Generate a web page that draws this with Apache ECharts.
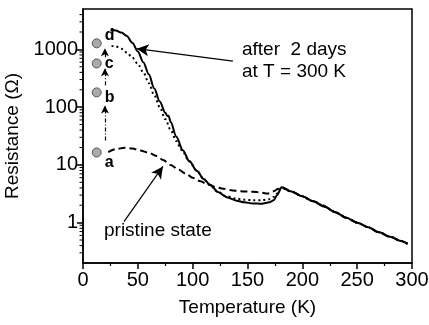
<!DOCTYPE html>
<html>
<head>
<meta charset="utf-8">
<script src="https://cdn.jsdelivr.net/npm/echarts@6/dist/echarts.min.js"></script>
<style>
  html, body { margin: 0; padding: 0; background: #fff; }
  #chart { width: 429px; height: 325px; }
</style>
</head>
<body>
<div id="chart"></div>
<script>
  // after 2 days at T = 300 K (solid, "d")
  const tempD = [25, 30, 35, 40, 45, 50, 55, 60, 65, 70, 75, 77, 78, 80, 85, 91, 97, 104, 110, 116, 123, 131, 140, 147, 155, 163, 170, 174, 177, 181, 190, 200, 210, 220, 230, 240, 250, 260, 270, 280, 290, 296]
  const resD = [2200, 2120, 1950, 1700, 1300, 920, 600, 370, 210, 125, 80, 70, 71, 55, 31, 18, 11.5, 7.8, 5.7, 4.5, 3.4, 2.75, 2.4, 2.25, 2.15, 2.12, 2.25, 2.45, 3.0, 4.1, 3.45, 2.85, 2.35, 1.9, 1.52, 1.22, 1.0, 0.83, 0.68, 0.57, 0.48, 0.43]

  // intermediate state (dotted, "c")
  const tempC = [26, 30, 35, 40, 45, 50, 55, 60, 65, 70, 75, 80, 85, 90, 97, 104, 110, 116, 123, 131, 140, 147, 155, 163, 170, 174, 177, 181, 190, 200, 210, 220, 230, 240, 250, 260, 270, 280, 290, 296]
  const resC = [1150, 1120, 1020, 880, 720, 560, 400, 260, 160, 100, 62, 40, 26, 18, 11.5, 7.8, 5.7, 4.4, 3.4, 2.85, 2.6, 2.5, 2.45, 2.45, 2.55, 2.8, 3.2, 4.0, 3.45, 2.85, 2.35, 1.9, 1.52, 1.22, 1.0, 0.83, 0.68, 0.57, 0.48, 0.43]

  // pristine state (dashed, "a")
  const tempA = [23, 30, 38, 45, 52, 60, 67, 73, 80, 87, 94, 100, 107, 113, 120, 128, 135, 143, 150, 160, 167, 170, 174, 178, 181, 190, 200, 210, 218, 225, 230, 240, 250, 260, 270, 280, 290, 296]
  const resA = [16.6, 18.8, 19.8, 19.2, 17.8, 16.2, 14.3, 12.2, 10, 8.3, 7.0, 6.0, 5.2, 4.7, 4.2, 3.85, 3.65, 3.5, 3.45, 3.37, 3.2, 3.2, 3.5, 3.85, 4.1, 3.45, 2.85, 2.35, 2.0, 1.75, 1.52, 1.22, 1.0, 0.83, 0.68, 0.57, 0.48, 0.43]

  // grey markers a..d at low temperature
  const markerLabels = ['a', 'b', 'c', 'd']
  const markerT = [12.5, 12.5, 12.5, 12.5]
  const markerR = [16.4, 180, 571, 1271]

  // dash-dot arrows between markers: [T, R from] -> [T, R to]
  const stepT = 20
  const stepFrom = [26.5, 238, 727]
  const stepTo = [107, 469, 1041]

  // annotation arrows
  const afterArrow = [[136.7, 627], [49, 1028]]
  const pristineArrow = [[37.4, 1.04], [72.9, 9.4]]

  const yMin = 0.2
  const yMax = 5000

  const font = "'Liberation Sans', Arial, sans-serif"

  const pairs = (xs, ys) => xs.map((x, i) => [x, ys[i]])

  // minor log ticks (2..9 per decade) on the left axis
  const minorLog = []
  for (let k = -1; k <= 3; k++) {
    for (let m = 2; m <= 9; m++) {
      const v = m * Math.pow(10, k)
      if (v > yMin && v < yMax) minorLog.push([0, v])
    }
  }

  const isDecade = v => Math.abs(Math.log10(v) - Math.round(Math.log10(v))) < 1e-6

  const chart = echarts.init(document.getElementById('chart'), null, {renderer: 'canvas'})

  chart.setOption({
    animation: false,
    backgroundColor: '#fff',
    textStyle: {fontFamily: font},
    grid: {
      left: 83, right: 17, top: 9, bottom: 62,
      containLabel: false, outerBoundsMode: 'none',
      show: true, borderColor: '#000', borderWidth: 1.5
    },
    xAxis: {
      type: 'value',
      min: 0, max: 300, interval: 50,
      name: 'Temperature (K)',
      nameLocation: 'middle',
      nameGap: 35,
      nameTextStyle: {fontSize: 19, color: '#000', fontFamily: font},
      axisLine: {lineStyle: {color: '#000', width: 1.5}},
      axisTick: {length: 6, lineStyle: {color: '#000', width: 1.5}},
      minorTick: {show: true, splitNumber: 2, length: 3, lineStyle: {color: '#000', width: 1.2}},
      axisLabel: {fontSize: 20, color: '#000', margin: 7, fontFamily: font},
      splitLine: {show: false}
    },
    yAxis: {
      type: 'log',
      logBase: 10,
      min: yMin, max: yMax,
      name: 'Resistance (Ω)',
      nameLocation: 'middle',
      nameGap: 52,
      nameTextStyle: {fontSize: 19, color: '#000', fontFamily: font},
      axisLine: {show: true, lineStyle: {color: '#000', width: 1.5}},
      axisTick: {length: 6, lineStyle: {color: '#000', width: 1.5}},
      axisLabel: {
        fontSize: 20, color: '#000', margin: 5, fontFamily: font,
        showMinLabel: false, showMaxLabel: false,
        formatter: v => isDecade(v) ? String(Math.round(v)) : ''
      },
      splitLine: {show: false}
    },
    graphic: [
      {type: 'text', left: 242, top: 39, silent: true,
        style: {text: 'after  2 days\nat T = 300 K', font: '19px ' + font, fill: '#000', lineHeight: 22}},
      {type: 'text', left: 104, top: 221, silent: true,
        style: {text: 'pristine state', font: '19px ' + font, fill: '#000'}}
    ],
    series: [
      {
        name: 'pristine', type: 'line', data: pairs(tempA, resA),
        showSymbol: false, smooth: 0.3, smoothMonotone: 'x', silent: true,
        lineStyle: {color: '#000', width: 2, type: [7, 4]},
        markLine: {
          silent: true, symbol: ['none', 'arrow'], symbolSize: [9, 12],
          label: {show: false},
          lineStyle: {color: '#000', width: 1.2, type: 'solid', curveness: -0.25},
          data: [[{coord: pristineArrow[0]}, {coord: pristineArrow[1]}]]
        }
      },
      {
        name: 'c', type: 'line', data: pairs(tempC, resC),
        showSymbol: false, smooth: 0.3, smoothMonotone: 'x', silent: true,
        lineStyle: {color: '#000', width: 2, type: [2, 3]}
      },
      {
        name: 'after 2 days', type: 'line', data: pairs(tempD, resD),
        showSymbol: false, smooth: 0.3, smoothMonotone: 'x', silent: true,
        lineStyle: {color: '#000', width: 2},
        markLine: {
          silent: true, symbol: ['none', 'arrow'], symbolSize: [9, 12],
          label: {show: false},
          lineStyle: {color: '#000', width: 1.2, type: 'solid', curveness: 0.1},
          data: [[{coord: afterArrow[0]}, {coord: afterArrow[1]}]]
        }
      },
      {
        name: 'markers', type: 'scatter', silent: true,
        data: markerT.map((t, i) => ({
          value: [t, markerR[i]],
          label: {
            show: true, formatter: markerLabels[i], position: 'right', distance: 3,
            color: '#000', fontSize: 16, fontWeight: 'bold', fontFamily: font,
            offset: i === 3 ? [0, -8] : [0, [10, 5, 0][i]]
          }
        })),
        symbol: 'circle', symbolSize: 9,
        itemStyle: {color: '#aaaaaa', borderColor: '#555', borderWidth: 1, opacity: 1},
        markLine: {
          silent: true, symbol: ['none', 'arrow'], symbolSize: [6, 8],
          label: {show: false},
          lineStyle: {color: '#000', width: 1.2, type: [4, 2, 1, 2], opacity: 1},
          data: stepFrom.map((r, i) => [{coord: [stepT, r]}, {coord: [stepT, stepTo[i]]}])
        }
      },
      {
        // log-spaced minor ticks on the y axis
        name: 'minorTicks', type: 'custom', silent: true, clip: false,
        data: minorLog,
        renderItem: (params, api) => {
          const p = api.coord([api.value(0), api.value(1)])
          return {
            type: 'line',
            shape: {x1: p[0] - 3.5, y1: p[1], x2: p[0], y2: p[1]},
            style: {stroke: '#000', lineWidth: 1}
          }
        }
      }
    ]
  })
</script>
</body>
</html>
